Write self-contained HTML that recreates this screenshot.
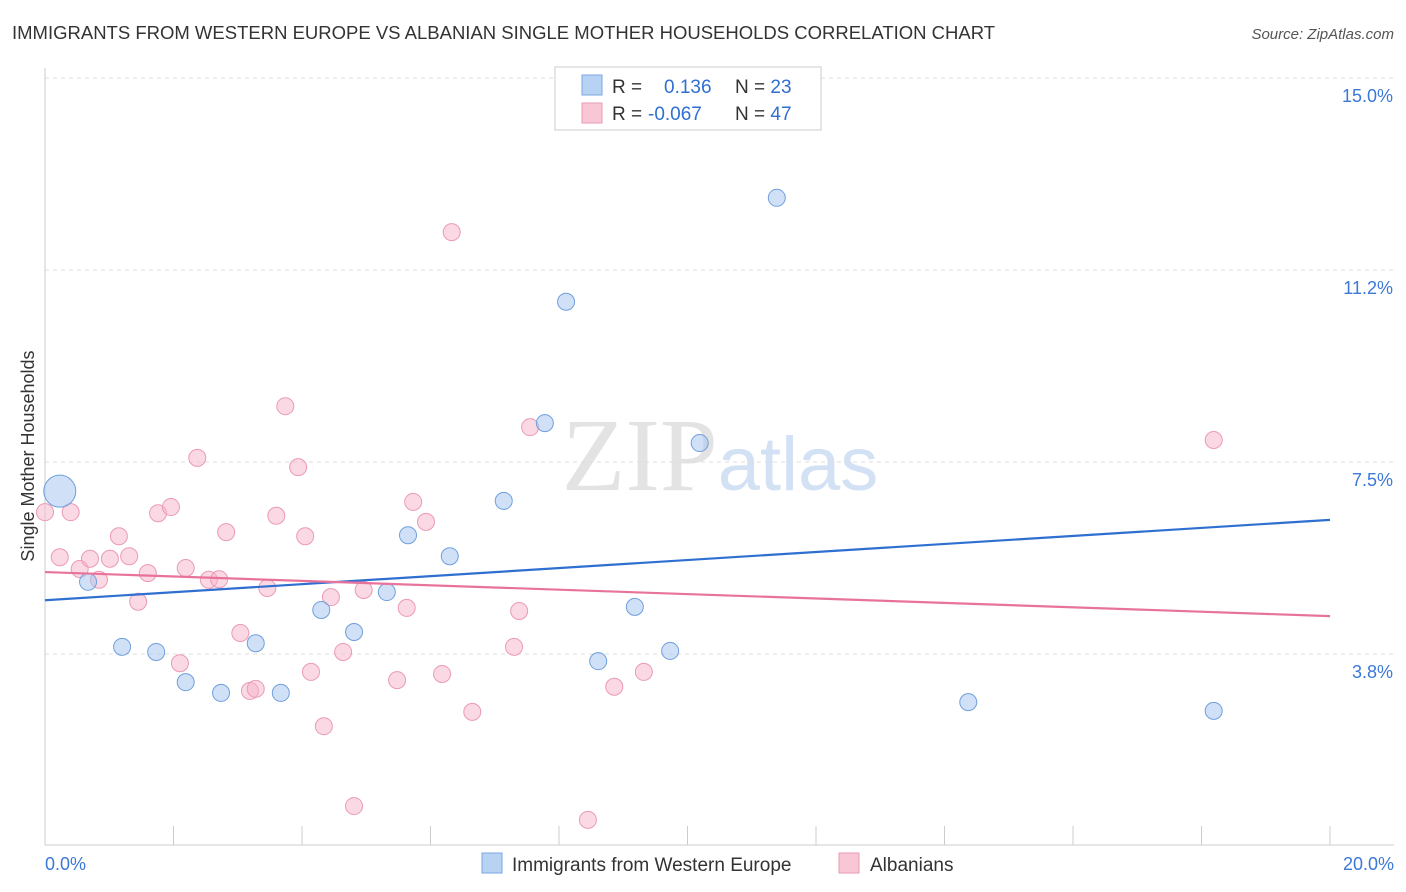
<!DOCTYPE html>
<html><head><meta charset="utf-8"><style>
body{margin:0;background:#fff;font-family:"Liberation Sans",sans-serif}
</style></head><body>
<svg id="chart" width="1406" height="892" xmlns="http://www.w3.org/2000/svg" style="display:block">
<text x="12" y="39" font-size="18.5" fill="#333">IMMIGRANTS FROM WESTERN EUROPE VS ALBANIAN SINGLE MOTHER HOUSEHOLDS CORRELATION CHART</text>
<text x="1394" y="39" font-size="15" fill="#555" text-anchor="end" font-style="italic">Source: ZipAtlas.com</text>
<text x="720" y="490" font-size="104" text-anchor="middle" font-family="Liberation Serif" fill="#ddd" opacity="0.8">ZIP<tspan fill="#c8daf2" font-family="Liberation Sans" font-size="76">atlas</tspan></text>
<text transform="translate(34,456) rotate(-90)" font-size="18" fill="#333" text-anchor="middle">Single Mother Households</text>
<g id="grid"></g><g id="axes"></g><g id="marks"></g>
<g>
<rect x="555" y="67" width="266" height="63" fill="#fff" stroke="#ccc"/>
<rect x="582" y="75" width="20" height="20" fill="#b8d2f4" stroke="#7aa6e0"/>
<text x="612" y="93" font-size="19" fill="#333">R = <tspan fill="#2f6fd0" x="664">0.136</tspan><tspan x="735" fill="#333">N = </tspan><tspan fill="#2f6fd0">23</tspan></text>
<rect x="582" y="103" width="20" height="20" fill="#f9c6d6" stroke="#e79ab4"/>
<text x="612" y="120" font-size="19" fill="#333">R = <tspan fill="#2f6fd0" x="648">-0.067</tspan><tspan x="735" fill="#333">N = </tspan><tspan fill="#2f6fd0">47</tspan></text>
</g>
<g>
<rect x="482" y="853" width="20" height="20" fill="#b8d2f4" stroke="#7aa6e0"/>
<text x="512" y="871" font-size="19" fill="#333">Immigrants from Western Europe</text>
<rect x="839" y="853" width="20" height="20" fill="#f9c6d6" stroke="#e79ab4"/>
<text x="870" y="871" font-size="19" fill="#333">Albanians</text>
</g>
</svg>
<script>
const blueX=[0.23,0.67,1.20,1.73,2.19,2.74,3.28,3.67,4.30,4.81,5.32,5.65,6.30,7.14,7.78,8.11,8.61,9.18,9.73,10.19,11.39,14.37,18.19];
const blueY=[6.93,5.16,3.89,3.79,3.20,2.99,3.96,2.99,4.61,4.18,4.96,6.07,5.66,6.74,8.26,10.63,3.61,4.67,3.81,7.87,12.66,2.81,2.64];
const pinkX=[0,0.23,0.40,0.54,0.70,0.84,1.01,1.15,1.31,1.45,1.60,1.76,1.96,2.10,2.19,2.37,2.55,2.71,2.82,3.04,3.19,3.28,3.46,3.60,3.74,3.94,4.05,4.14,4.34,4.45,4.64,4.81,4.96,5.48,5.63,5.73,5.93,6.18,6.33,6.65,7.30,7.38,7.55,8.45,8.86,9.32,18.19];
const pinkY=[6.52,5.64,6.52,5.41,5.61,5.20,5.61,6.05,5.66,4.77,5.33,6.50,6.62,3.57,5.43,7.58,5.20,5.21,6.13,4.16,3.03,3.07,5.04,6.45,8.59,7.40,6.05,3.40,2.34,4.86,3.79,0.78,5.00,3.24,4.65,6.72,6.33,3.36,11.99,2.62,3.89,4.59,8.18,0.51,3.11,3.40,7.93];
const blueTrend=[4.80,6.37];
const pinkTrend=[5.35,4.49];
const yTicks=[3.75,7.5,11.25,15];
const yTickLabels=["3.8%","7.5%","11.2%","15.0%"];
const xTicks=[0,2,4,6,8,10,12,14,16,18,20];
const NS="http://www.w3.org/2000/svg";
const X=v=>45+v/20*1285, Y=v=>846-v*51.2;
function mk(t,a,p){const e=document.createElementNS(NS,t);for(const k in a)e.setAttribute(k,a[k]);p.appendChild(e);return e;}
const grid=document.getElementById('grid'),axes=document.getElementById('axes'),marks=document.getElementById('marks');
yTicks.forEach((v,i)=>{
 const l=mk('line',{x1:45,x2:1394,y1:Y(v),y2:Y(v),stroke:'#ddd','stroke-dasharray':'4,4'},grid);
 
 
 const t=mk('text',{x:1393,y:Y(v)+24,'font-size':18,fill:'#3b78d8','text-anchor':'end'},axes);
 t.textContent=yTickLabels[i];
 
 
});
const ax=mk('path',{d:'M45 68 V845 H1394',fill:'none',stroke:'#ccc'},axes);


xTicks.forEach(v=>{
 const t=mk('line',{x1:X(v),x2:X(v),y1:826,y2:845,stroke:'#ccc'},axes);
 
 
});
const xl=mk('text',{x:45,y:870,'font-size':18,fill:'#3b78d8'},axes);xl.textContent='0.0%';


const xr=mk('text',{x:1394,y:870,'font-size':18,fill:'#3b78d8','text-anchor':'end'},axes);xr.textContent='20.0%';


pinkX.forEach((v,i)=>{
 const c=mk('circle',{cx:X(v),cy:Y(pinkY[i]),r:8.5,fill:'rgba(246,180,202,0.5)',stroke:'#eb9ab5','stroke-width':1},marks);
 
 
});
blueX.forEach((v,i)=>{
 const c=mk('circle',{cx:X(v),cy:Y(blueY[i]),r:i===0?16:8.5,fill:'rgba(170,200,240,0.55)',stroke:'#6f9fdd','stroke-width':1},marks);
 
 
});
const bl=mk('line',{x1:X(0),x2:X(20),y1:Y(blueTrend[0]),y2:Y(blueTrend[1]),stroke:'#2f6fd0','stroke-width':2.2},marks);


const pl=mk('line',{x1:X(0),x2:X(20),y1:Y(pinkTrend[0]),y2:Y(pinkTrend[1]),stroke:'#e8739a','stroke-width':2.2},marks);


</script>
</body></html>
